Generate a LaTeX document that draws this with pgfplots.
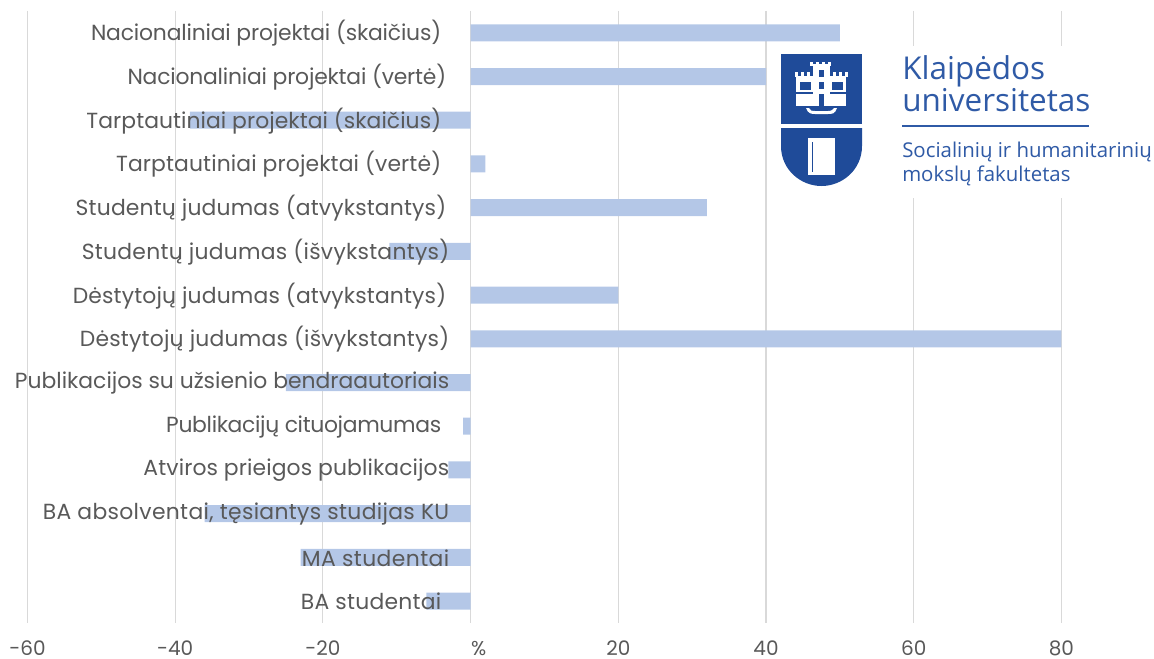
\documentclass[border=0pt]{standalone}
\usepackage{pgfplots}
\usepackage{fontspec}
\pgfplotsset{compat=1.18}
\setmainfont{Poppins}
\newfontfamily\logofont{Open Sans}
\definecolor{barblue}{HTML}{B4C7E7}
\definecolor{gridgray}{HTML}{D9D9D9}
\definecolor{txtgray}{HTML}{595959}
\definecolor{logoblue}{HTML}{1F4B99}
\definecolor{logotxt}{HTML}{2F5AA6}
% 1 px of the reference = 0.75pt
\newcommand{\gap}[1]{\hspace*{#1pt}}
\newcommand{\ls}[2]{{\addfontfeature{LetterSpace=#1}#2}}
\pgfplotsset{chartbase/.style={
    at={(20.6pt,-467.2pt)}, anchor=south west,
    scale only axis, width=775.5pt, height=459pt,
    xmin=-60, xmax=80,
    ymin=-0.5, ymax=13.5, y dir=reverse,
    xtick={-60,-40,-20,0,20,40,60,80},
    ytick={0,...,13},
    major tick length=0pt,
    axis line style={draw=none},
}}
\begin{document}
\begin{tikzpicture}
\path[use as bounding box] (0pt,0pt) rectangle (865.5pt,-493.5pt);
% bars and grid
\begin{axis}[
    chartbase,
    xbar, bar width=12.75pt, bar shift=0pt,
    xticklabels={}, yticklabels={},
    xmajorgrids, grid style={gridgray, line width=0.9pt},
    ymajorgrids=false,
]
\addplot[fill=barblue, draw=none] coordinates {
    (50,0) (40,1) (-38,2) (2,3) (32,4) (-11,5) (20,6) (80,7)
    (-25,8) (-1,9) (-3,10) (-36,11) (-23,12) (-6,13)
};
\end{axis}
% second axis: the labels lie over the bars
\begin{axis}[
    chartbase,
    xticklabels={-60,-40,-20,\gap{12}\%,20,40,60,80},
    yticklabels={
        \ls{-0.8}{Nacionaliniai projektai (skaičius)}\gap{6},
        \ls{-0.9}{Nacionaliniai projektai (vertė)}\gap{2.25},
        \ls{0.27}{Tarptautiniai projektai (skaičius)}\gap{6},
        \ls{0.6}{Tarptautiniai projektai (vertė)}\gap{6},
        \ls{0.74}{Studentų judumas (atvykstantys)}\gap{2.25},
        \ls{1.2}{Studentų judumas (išvykstantys)},
        \ls{0.7}{Dėstytojų judumas (atvykstantys)}\gap{2.25},
        \ls{1.0}{Dėstytojų judumas (išvykstantys)},
        Publikacijos su užsienio bendraautoriais,
        \ls{-1.5}{Publikacijų cituojamumas}\gap{6},
        \ls{0.5}{Atviros prieigos publikacijos},
        {\ls{1.5}{BA absolventai, tęsiantys studijas KU}},
        \ls{1.9}{MA studentai},
        \ls{1.1}{BA studentai}\gap{6}
    },
    tick label style={text=txtgray},
    yticklabel style={font=\fontsize{16.4}{17}\selectfont, anchor=east, inner sep=0pt, xshift=316.5pt, yshift=-0.5pt},
    xticklabel style={font=\fontsize{15}{15}\selectfont, inner sep=0pt, yshift=-13.5pt},
]
\end{axis}
\begin{scope}[x=0.75pt,y=-0.75pt]
% logo panel
\fill[white] (772,46) rectangle (1154,198);
\fill[logoblue] (781,54) rectangle (862,124);
\fill[logoblue] (781,128) -- (862,128) -- (862,146) .. controls (862,170) and (842,186) .. (821.5,186) .. controls (801,186) and (781,170) .. (781,146) -- cycle;
\fill[white] (808,138) rectangle (835,175);
\fill[logoblue] (812,142) rectangle (813,172);
% castle
\fill[white] (796,76) rectangle (846,106);
\fill[white] (813,64) rectangle (830,106);
\foreach \bx in {810,816,822,828}{\fill[white] (\bx,62) rectangle (\bx+3,66);}
\foreach \bx in {796,802,808,834,840,846}{\fill[white] (\bx-1,72) rectangle (\bx+1.5,77);}
\fill[logoblue] (819,70) rectangle (824,77);
\fill[logoblue] (819,82) rectangle (824,89);
\fill[logoblue] (819,94) rectangle (824,106);
\fill[logoblue] (800,82) rectangle (811,90);
\fill[logoblue] (832,82) rectangle (843,90);
\fill[logoblue] (796,92) rectangle (813,94);
\fill[logoblue] (830,92) rectangle (846,94);
\fill[white] (806,108) .. controls (808,114) and (812,114) .. (815,114) -- (828,114) .. controls (832,114) and (835,114) .. (837,108) -- (834,108) .. controls (832,111) and (830,111) .. (828,111) -- (815,111) .. controls (812,111) and (810,111) .. (809,108) -- cycle;
% logo text
\node[anchor=base west, inner sep=0pt, text=logotxt, font=\logofont\fontsize{23.6}{25}\selectfont] at (902,79) {Klaipėdos};
\node[anchor=base west, inner sep=0pt, text=logotxt, font=\logofont\fontsize{23.6}{25}\selectfont] at (902,111) {universitetas};
\draw[logotxt, line width=0.9pt] (902,126) -- (1089,126);
\node[anchor=base west, inner sep=0pt, text=logotxt, font=\logofont\fontsize{15.3}{16}\selectfont] at (902,157) {Socialinių ir humanitarinių};
\node[anchor=base west, inner sep=0pt, text=logotxt, font=\logofont\fontsize{15.3}{16}\selectfont] at (902,181) {mokslų fakultetas};
\end{scope}
\end{tikzpicture}
\end{document}
